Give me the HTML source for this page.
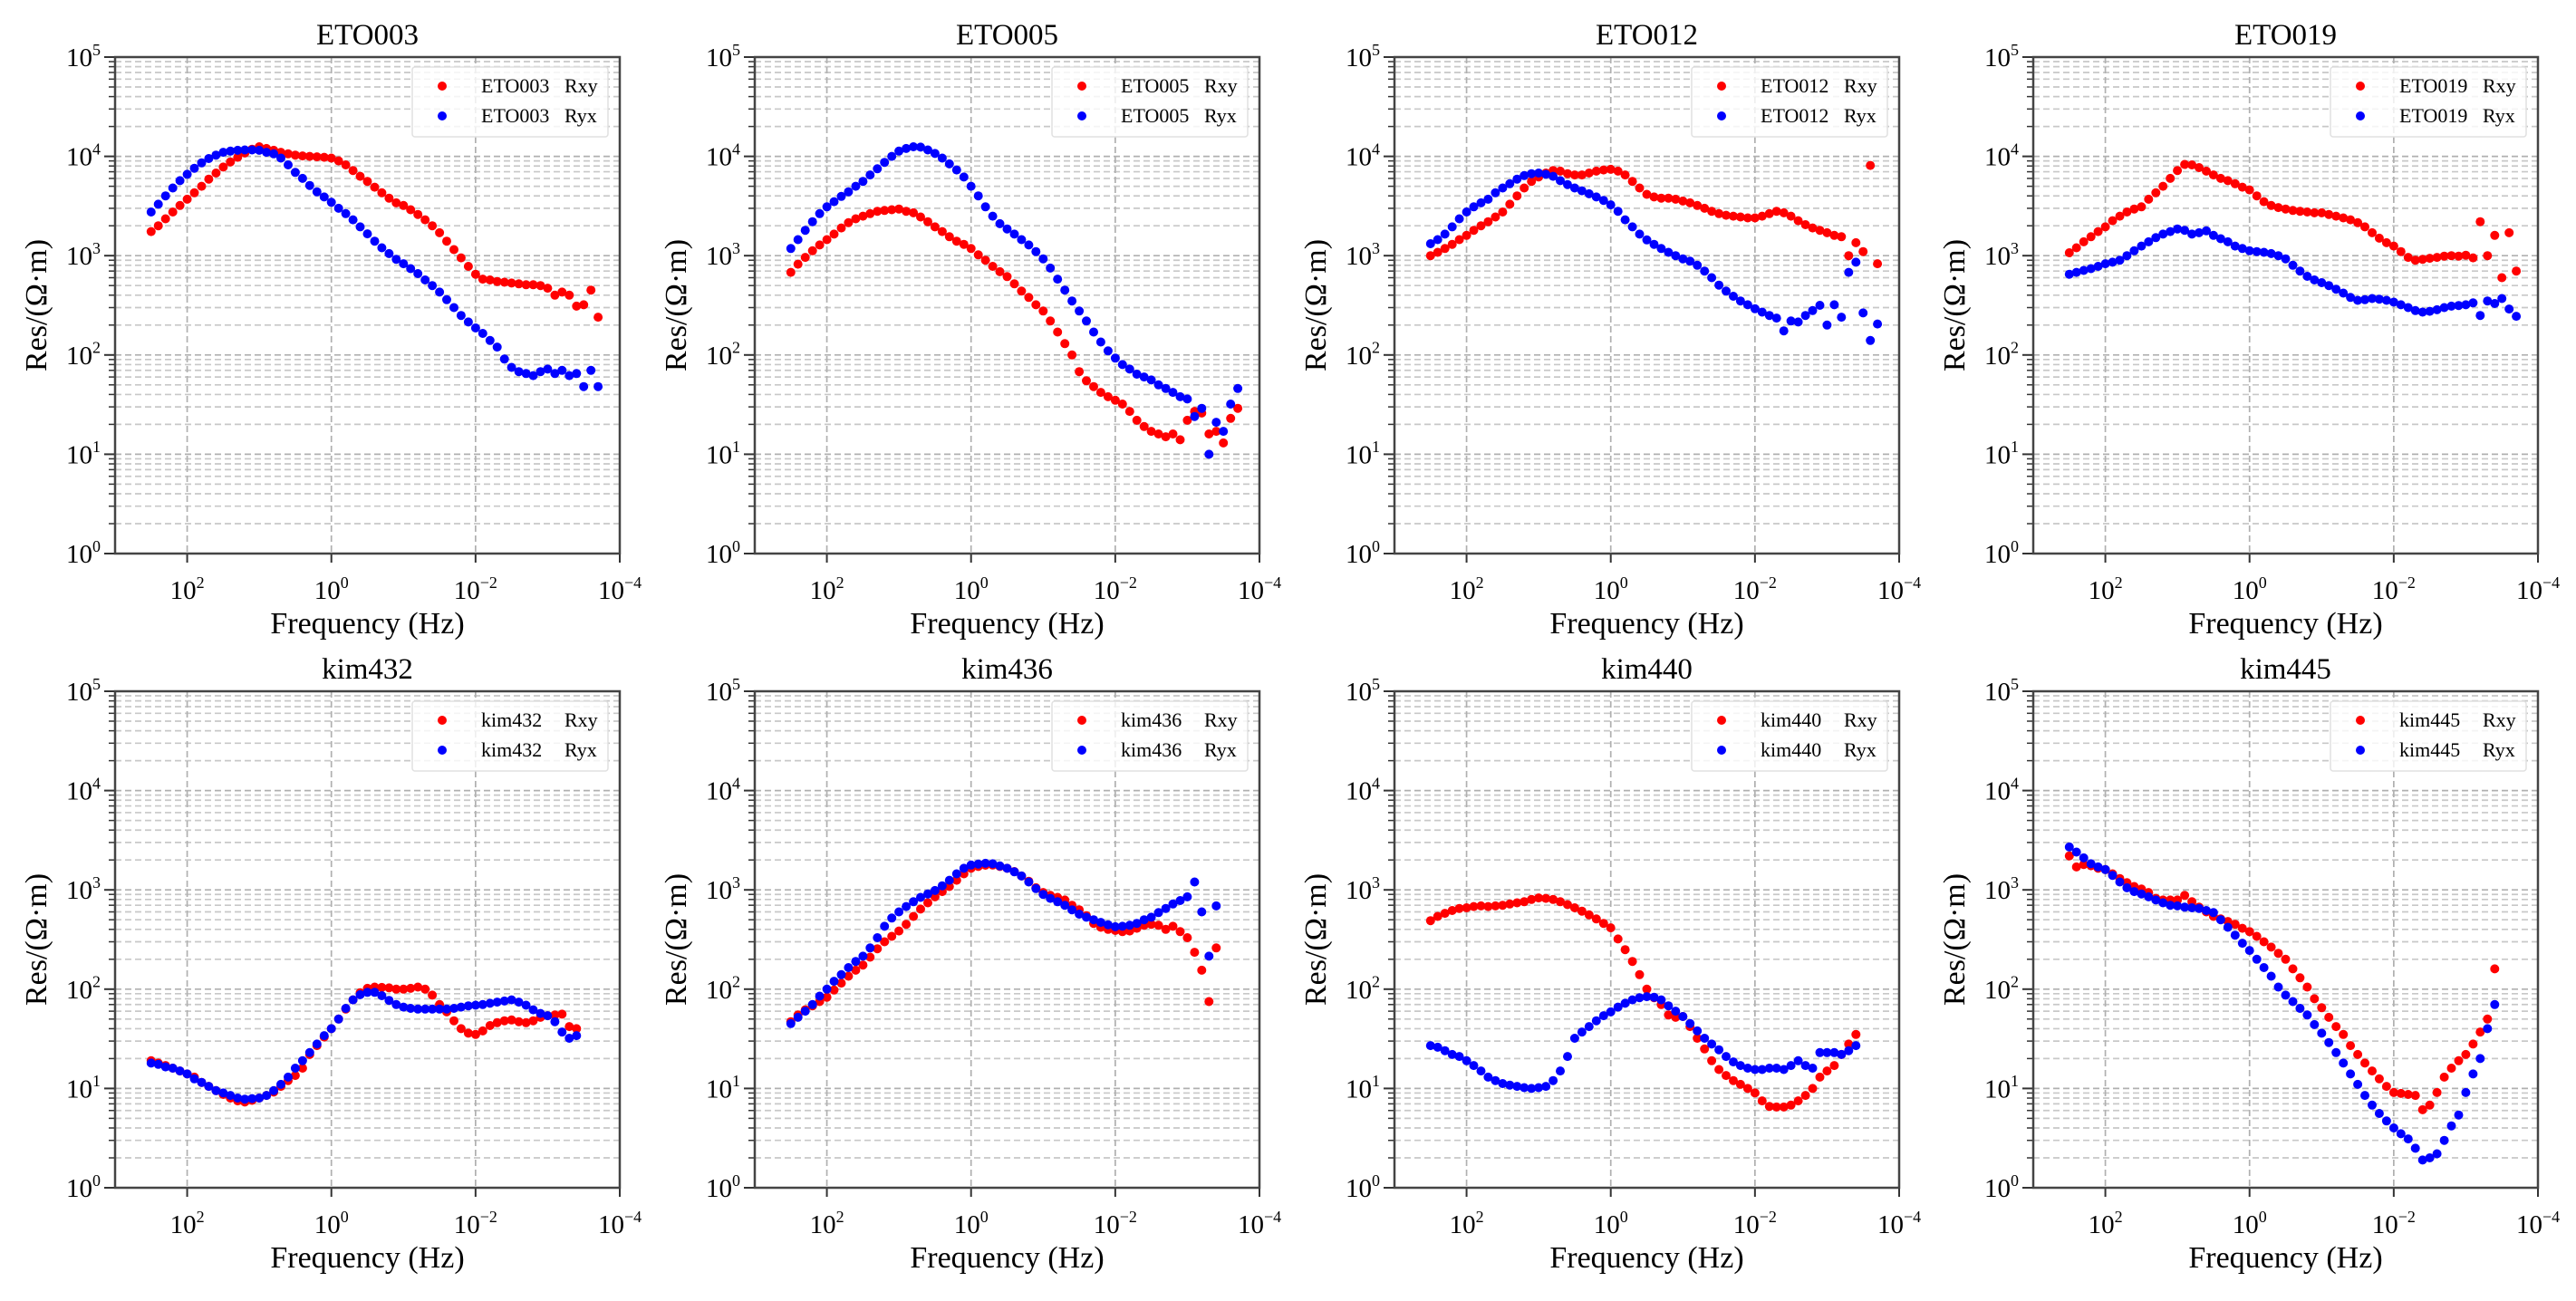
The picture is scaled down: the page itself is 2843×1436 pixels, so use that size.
<!DOCTYPE html>
<html><head><meta charset="utf-8"><style>
html,body{margin:0;padding:0;background:#fff;}
svg text{font-family:"Liberation Serif",serif;fill:#000;}
</style></head><body>
<svg id="fig" width="2843" height="1431" viewBox="0 0 2843 1431" xmlns="http://www.w3.org/2000/svg"></svg>
<script>
// shared frequency exponents (log10 Hz)
const freqExpETO = [2.5,2.4,2.3,2.2,2.1,2.0,1.9,1.8,1.7,1.6,1.5,1.4,1.3,1.2,1.1,1.0,0.9,0.8,0.7,0.6,0.5,0.4,0.3,0.2,0.1,0.0,-0.1,-0.2,-0.3,-0.4,-0.5,-0.6,-0.7,-0.8,-0.9,-1.0,-1.1,-1.2,-1.3,-1.4,-1.5,-1.6,-1.7,-1.8,-1.9,-2.0,-2.1,-2.2,-2.3,-2.4,-2.5,-2.6,-2.7,-2.8,-2.9,-3.0,-3.1,-3.2,-3.3,-3.4,-3.5,-3.6,-3.7];
const freqExpKim = [2.5,2.4,2.3,2.2,2.1,2.0,1.9,1.8,1.7,1.6,1.5,1.4,1.3,1.2,1.1,1.0,0.9,0.8,0.7,0.6,0.5,0.4,0.3,0.2,0.1,0.0,-0.1,-0.2,-0.3,-0.4,-0.5,-0.6,-0.7,-0.8,-0.9,-1.0,-1.1,-1.2,-1.3,-1.4,-1.5,-1.6,-1.7,-1.8,-1.9,-2.0,-2.1,-2.2,-2.3,-2.4,-2.5,-2.6,-2.7,-2.8,-2.9,-3.0,-3.1,-3.2,-3.3,-3.4];
const stationNames = ["ETO003","ETO005","ETO012","ETO019","kim432","kim436","kim440","kim445"];
const xTickExps = [2,0,-2,-4];
const yTickExps = [0,1,2,3,4,5];

const eto003Rxy = [1750,2000,2350,2750,3200,3700,4300,5000,5900,6800,7800,8800,9800,10800,11800,12500,12000,11500,11000,10600,10300,10100,10000,9900,9800,9600,9000,8200,7200,6300,5600,4900,4300,3800,3400,3200,2900,2600,2300,2000,1700,1400,1150,950,780,650,580,570,550,540,530,520,510,510,500,470,400,430,400,310,320,450,240];
const eto003Ryx = [2750,3300,4000,4800,5700,6600,7600,8600,9500,10300,11000,11300,11500,11600,11600,11500,11000,10600,9600,8200,6900,6000,5100,4400,3900,3450,3000,2650,2300,1950,1660,1400,1200,1050,920,830,740,660,570,500,430,360,300,250,215,187,165,140,120,91,75,68,65,62,68,72,65,70,62,65,48,70,48];
const eto005Rxy = [680,820,960,1120,1280,1450,1650,1900,2150,2350,2500,2650,2800,2850,2900,2950,2800,2700,2450,2200,1950,1750,1550,1400,1300,1180,1020,900,780,690,615,520,440,380,320,277,220,170,130,100,68,55,48,42,38,35,32,27,22,19,17,16,15,16,14,22,27,26,16,17,13,23,29];
const eto005Ryx = [1180,1450,1800,2200,2650,3100,3500,3950,4400,5000,5600,6500,7500,8700,10000,11300,12000,12500,12400,11600,10700,9600,8400,7300,6200,5000,4000,3100,2500,2100,1860,1650,1450,1280,1100,930,750,580,450,350,277,220,170,135,110,93,80,72,64,60,56,50,46,42,38,36,24,29,10,21,17,32,46];
const eto012Rxy = [1000,1080,1180,1300,1450,1600,1800,2000,2200,2450,2750,3300,4000,4800,5600,6200,6800,7200,7100,6700,6500,6500,6800,7100,7300,7400,7100,6500,5600,4800,4150,3900,3800,3800,3700,3550,3400,3200,3000,2800,2650,2550,2500,2450,2400,2400,2500,2650,2800,2700,2500,2250,2050,1900,1800,1700,1600,1550,1000,1350,1100,8100,830];
const eto012Ryx = [1320,1450,1650,1950,2350,2750,3100,3400,3700,4300,4800,5300,5900,6400,6700,6800,6600,6300,5700,5200,4800,4500,4200,3900,3600,3250,2800,2300,1950,1650,1440,1300,1180,1080,1000,930,880,800,700,600,505,440,390,350,320,292,270,250,235,175,220,215,250,280,316,200,320,240,680,860,265,140,205];
const eto019Rxy = [1070,1200,1380,1550,1750,1950,2250,2500,2750,2950,3100,3700,4300,5000,6000,7200,8300,8200,7700,7100,6500,6000,5700,5300,4900,4600,4000,3500,3200,3050,2950,2850,2800,2750,2700,2700,2600,2500,2400,2300,2150,1950,1700,1500,1350,1250,1100,960,900,920,940,960,990,1000,990,1010,950,2200,1000,1600,600,1700,700];
const eto019Ryx = [650,680,710,740,780,830,860,900,1000,1120,1250,1380,1520,1650,1750,1860,1800,1650,1700,1780,1600,1480,1380,1250,1180,1120,1100,1080,1050,1000,930,800,700,620,570,535,500,460,420,380,355,360,370,365,355,340,320,300,280,270,275,285,300,310,315,320,335,250,350,330,370,290,245];
const kim432Rxy = [19,18,17,16,15,14,13,11.5,10.5,9.5,8.7,8,7.5,7.3,7.6,8,8.5,9.2,10.5,12,13.5,16,22,27,33,40,50,63,78,92,102,105,104,103,100,100,102,105,100,87,70,59,48,40,36,35,38,43,46,48,49,47,46,48,52,54,55,56,42,40];
const kim432Ryx = [18,17.5,16.5,16,15,14,12.5,11.5,10.5,9.5,9,8.5,8,7.8,7.9,8,8.5,9.5,11,13,16,19,23,28,34,40,50,64,78,88,93,93,86,77,70,66,64,63,63,63,63,63,64,66,68,69,70,72,74,76,78,74,69,62,57,54,47,37,32,34];
const kim436Rxy = [47,55,62,68,75,83,98,115,135,155,175,210,255,300,340,385,450,540,640,740,850,960,1080,1250,1450,1650,1720,1770,1780,1720,1650,1530,1380,1220,1050,940,880,840,790,700,630,550,460,420,400,390,380,385,410,440,450,440,400,430,380,330,235,155,75,260];
const kim436Ryx = [45,52,60,70,85,100,120,140,165,190,215,260,330,430,520,600,680,760,840,910,985,1100,1250,1450,1650,1780,1820,1850,1830,1740,1650,1520,1380,1200,1030,900,820,760,700,630,570,530,500,470,445,425,430,440,460,500,530,590,650,720,780,850,1200,600,215,690];
const kim440Rxy = [490,540,580,620,650,660,680,690,680,690,700,720,740,760,800,830,820,800,760,710,660,610,560,510,460,415,320,250,190,140,100,82,70,55,52,53,42,32,25,19,15.5,13.5,12,11,10,9,7.5,6.6,6.5,6.5,6.8,7.5,8.5,10,13,15,17,22,28,35];
const kim440Ryx = [27,26,24,22,21,19,17,15,13,12,11.2,10.8,10.5,10.2,10,10.2,10.5,12,15,21,32,37,42,48,54,59,66,72,78,82,84,83,78,68,60,53,45,38,32,28,24.5,21,18.5,17,16,15.5,15.5,16,16,15.5,17,19,17,16,23,23,23,22,24,27];
const kim445Rxy = [2200,1700,1800,1750,1650,1600,1450,1300,1180,1080,1020,940,820,790,790,790,880,760,670,600,540,510,480,450,410,380,340,300,265,230,200,160,130,105,80,65,52,42,35,27,22,18,15,12.5,10.5,9.1,8.9,8.7,8.5,6.1,6.8,9.1,13,16,19,22,28,37,50,160];
const kim445Ryx = [2700,2400,2100,1830,1700,1600,1400,1200,1050,960,910,850,790,740,700,690,670,660,650,620,590,500,420,350,290,245,200,165,135,105,87,75,64,55,44,36,29,23,18,14,11,8.5,6.8,5.6,4.7,4,3.5,3.1,2.5,1.9,2.0,2.2,3.0,4.2,5.4,9.1,14,20,40,70];

const rxySeries = [eto003Rxy,eto005Rxy,eto012Rxy,eto019Rxy,kim432Rxy,kim436Rxy,kim440Rxy,kim445Rxy];
const ryxSeries = [eto003Ryx,eto005Ryx,eto012Ryx,eto019Ryx,kim432Ryx,kim436Ryx,kim440Ryx,kim445Ryx];

const NS = "http://www.w3.org/2000/svg";
const svg = document.getElementById("fig");
const colLeft = [127,833,1539,2244], rowTop = [63,763];
const W = 557, H = 548, XMAX = 3, XMIN = -4, YMIN = 0, YMAX = 5;

function mk(tag, attrs, parent){
  const e = document.createElementNS(NS, tag);
  for (const k in attrs) e.setAttribute(k, attrs[k]);
  (parent||svg).appendChild(e);
  return e;
}
function powText(parent, x, y, exp, anchor, size){
  const t = mk("text", {x:x, y:y, "text-anchor":anchor, "font-size":size}, parent);
  const a = document.createElementNS(NS,"tspan"); a.textContent = "10"; t.appendChild(a);
  const b = document.createElementNS(NS,"tspan"); b.textContent = (exp<0?"\u2212":"")+Math.abs(exp);
  b.setAttribute("dy", -size*0.42); b.setAttribute("font-size", size*0.62); t.appendChild(b);
  return t;
}

stationNames.forEach((name, i) => {
  const L = colLeft[i%4], T = rowTop[Math.floor(i/4)];
  const xs = i < 4 ? freqExpETO : freqExpKim;
  const sx = e => L + (XMAX - e) / (XMAX - XMIN) * W;
  const sy = v => T + H - (Math.log10(v) - YMIN) / (YMAX - YMIN) * H;
  const g = mk("g", {});
  
  

  const grid = mk("g", {}, g);
  
  
  for (let d = YMIN; d < YMAX; d++) {
    for (let m = 2; m <= 9; m++) {
      const y = sy(m * Math.pow(10, d));
      mk("line", {x1:L, x2:L+W, y1:y, y2:y, stroke:"#c8c8c8", "stroke-width":1.7, "stroke-dasharray":"7,4"}, grid);
      mk("line", {x1:L-7, x2:L, y1:y, y2:y, stroke:"#333", "stroke-width":1.5}, grid);
    }
  }
  yTickExps.forEach(e => {
    const y = sy(Math.pow(10, e));
    if (e > YMIN && e < YMAX) mk("line", {x1:L, x2:L+W, y1:y, y2:y, stroke:"#b0b0b0", "stroke-width":1.7, "stroke-dasharray":"7,4"}, grid);
    mk("line", {x1:L-12, x2:L, y1:y, y2:y, stroke:"#333", "stroke-width":2}, grid);
  });
  xTickExps.forEach(e => {
    const x = sx(e);
    if (e > XMIN) mk("line", {x1:x, x2:x, y1:T, y2:T+H, stroke:"#b0b0b0", "stroke-width":1.7, "stroke-dasharray":"7,4"}, grid);
    mk("line", {x1:x, x2:x, y1:T+H, y2:T+H+10, stroke:"#333", "stroke-width":2}, grid);
  });

  const fr = mk("rect", {x:L, y:T, width:W, height:H, fill:"none", stroke:"#444", "stroke-width":2.5}, g);
  
  

  yTickExps.forEach(e => {
    const t = powText(g, L-16, sy(Math.pow(10,e))+10, e, "end", 29);
    
    
  });
  xTickExps.forEach(e => {
    const t = powText(g, sx(e), T+H+50, e, "middle", 29);
    
    
  });

  const tt = mk("text", {x:L+W/2, y:T-14, "text-anchor":"middle", "font-size":33}, g);
  tt.textContent = name;
  
  
  const xl = mk("text", {x:L+W/2, y:T+H+88, "text-anchor":"middle", "font-size":34}, g);
  xl.textContent = "Frequency (Hz)";
  
  
  const yl = mk("text", {x:0, y:0, "text-anchor":"middle", "font-size":34, transform:`translate(${L-76},${T+H/2}) rotate(-90)`}, g);
  yl.textContent = "Res/(\u03A9\u00B7m)";
  
  

  const series = [[rxySeries[i], "#ff0000", "rxy"], [ryxSeries[i], "#0000ff", "ryx"]];
  series.forEach(([vals, col, key]) => {
    const sg = mk("g", {fill:col}, g);
    
    
    vals.forEach((v, k) => {
      const c = mk("circle", {cx:sx(xs[k]).toFixed(1), cy:sy(v).toFixed(1), r:5}, sg);
      
      
    });
  });

  const lg = mk("g", {}, g);
  
  
  mk("rect", {x:L+328, y:T+11, width:216, height:77, rx:3, fill:"rgba(255,255,255,0.8)", stroke:"#e0e0e0", "stroke-width":1.5}, lg);
  [["Rxy","#ff0000",0],["Ryx","#0000ff",1]].forEach(([lab,col,r]) => {
    const yy = T + 32 + r*33;
    const m = mk("circle", {cx:L+361, cy:yy, r:5, fill:col}, lg);
    
    
    const t = mk("text", {x:L+404, y:yy+7, "font-size":22}, lg);
    t.textContent = name;
    
    
    const t2 = mk("text", {x:L+496, y:yy+7, "font-size":22}, lg);
    t2.textContent = lab;
    
    
  });
});
</script>
</body></html>
